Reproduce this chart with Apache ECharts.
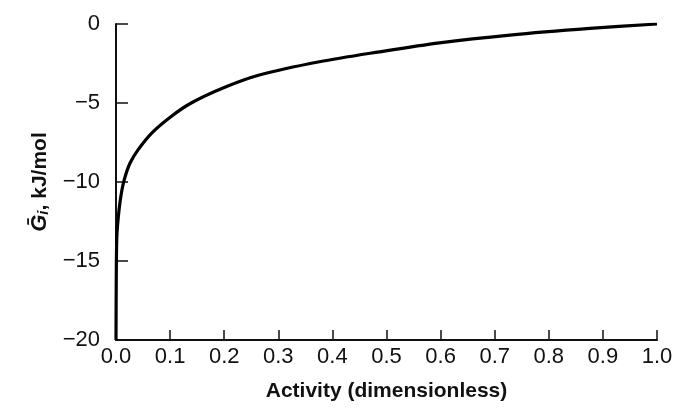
<!DOCTYPE html>
<html>
<head>
<meta charset="utf-8">
<script src="https://cdn.jsdelivr.net/npm/echarts@6/dist/echarts.min.js"></script>
<style>
  html, body { margin: 0; padding: 0; background: #fff; }
  #main { width: 684px; height: 409px; }
</style>
</head>
<body>
<div id="main"></div>
<script>
// activity values (x) and partial molar free energy (kJ/mol)
var activity = [0, 0.0005, 0.0015, 0.0043, 0.009, 0.0153, 0.026, 0.041, 0.066, 0.102, 0.139, 0.2, 0.265, 0.376, 0.487, 0.598, 0.728, 0.876, 1.0];
var energy = [-20, -16, -13.5, -12.2, -10.9, -9.85, -8.8, -7.95, -6.9, -5.85, -5.0, -4.02, -3.23, -2.39, -1.76, -1.19, -0.7, -0.28, 0];

var xTicks = { min: 0, max: 1, interval: 0.1 };
var yTicks = { min: -20, max: 0, interval: 5 };

var points = [];
for (var i = 0; i < activity.length; i++) {
  points.push([activity[i], energy[i]]);
}

var font = "Liberation Sans, Arial, sans-serif";
var chart = echarts.init(document.getElementById("main"));
chart.setOption({
  animation: false,
  backgroundColor: "#fff",
  grid: { left: 116, right: 27, top: 24, bottom: 69 },
  xAxis: {
    type: "value",
    min: xTicks.min,
    max: xTicks.max,
    interval: xTicks.interval,
    name: "Activity (dimensionless)",
    nameLocation: "middle",
    nameGap: 41,
    nameTextStyle: { fontFamily: font, fontSize: 21, fontWeight: "bold", color: "#111" },
    axisLine: { onZero: false, lineStyle: { color: "#111", width: 2 } },
    axisTick: { inside: true, length: 10, lineStyle: { color: "#111", width: 1.5 } },
    axisLabel: {
      fontFamily: font, fontSize: 22, color: "#111", margin: 6,
      formatter: function (v) { return v.toFixed(1); }
    },
    splitLine: { show: false }
  },
  yAxis: {
    type: "value",
    min: yTicks.min,
    max: yTicks.max,
    interval: yTicks.interval,
    name: "{g|Ḡ}{i|i}{n|, kJ/mol}",
    nameLocation: "middle",
    nameGap: 58,
    nameRotate: 90,
    nameTextStyle: {
      rich: {
        g: { fontFamily: font, fontSize: 22, fontWeight: "bold", fontStyle: "italic", color: "#111" },
        i: { fontFamily: font, fontSize: 15, fontWeight: "bold", fontStyle: "italic", color: "#111", verticalAlign: "bottom", padding: [8, 0, 0, 0] },
        n: { fontFamily: font, fontSize: 21, fontWeight: "bold", color: "#111" }
      }
    },
    axisLine: { show: true, lineStyle: { color: "#111", width: 2 } },
    axisTick: { inside: true, length: 12, lineStyle: { color: "#111", width: 1.5 } },
    axisLabel: {
      fontFamily: font, fontSize: 22, color: "#111", margin: 16,
      formatter: function (v) { return String(v).replace("-", "\u2212"); }
    },
    splitLine: { show: false }
  },
  series: [{
    type: "line",
    data: points,
    smooth: 0.3,
    showSymbol: false,
    lineStyle: { color: "#000", width: 3.2 }
  }]
});
</script>
</body>
</html>
